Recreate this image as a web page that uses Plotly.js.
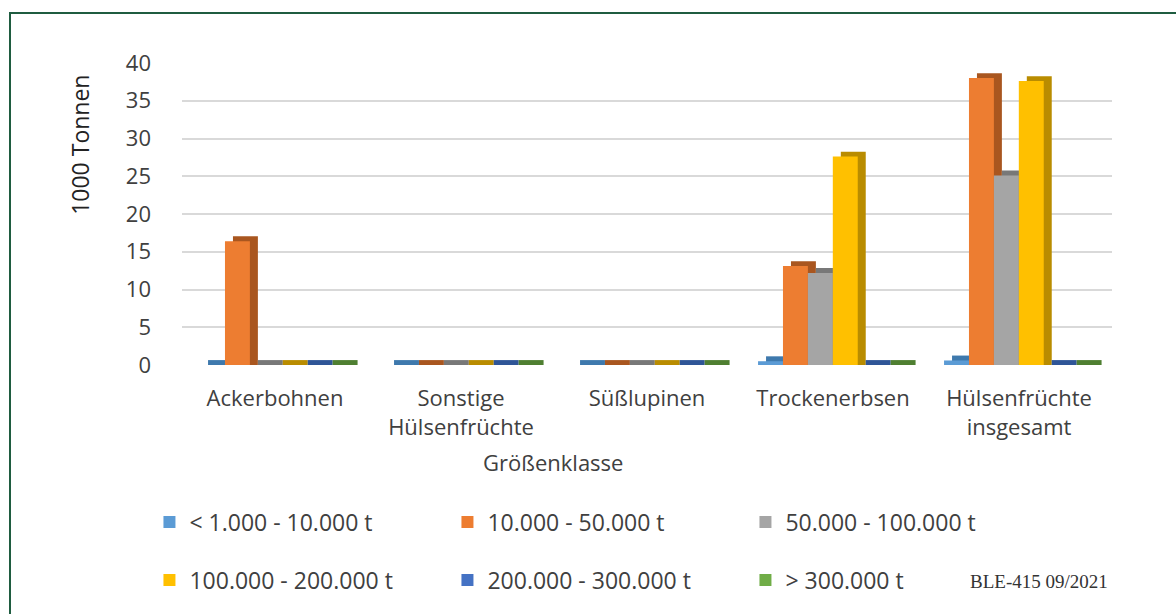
<!DOCTYPE html>
<html>
<head>
<meta charset="utf-8">
<script src="https://cdn.plot.ly/plotly-3.0.1.min.js"></script>
<style>
  body { margin: 0; background: #ffffff; }
  #frame { position: absolute; left: 9px; top: 12px; width: 1300px; height: 800px; border: 2px solid #1f5c40; }
  #chart { position: absolute; left: 0; top: 0; width: 1176px; height: 614px; }
</style>
</head>
<body>
<div id="frame"></div>
<div id="chart"></div>
<script>
// Kategorien (Größenklasse)
var kategorien = ['Ackerbohnen', 'Sonstige<br>Hülsenfrüchte', 'Süßlupinen', 'Trockenerbsen', 'Hülsenfrüchte<br>insgesamt'];

// Werte in 1000 Tonnen je Größenklasse der Betriebe
var klasse1 = [0, 0, 0, 0.5, 0.6];       // < 1.000 - 10.000 t
var klasse2 = [16.4, 0, 0, 13.1, 38.0];  // 10.000 - 50.000 t
var klasse3 = [0, 0, 0, 12.2, 25.1];     // 50.000 - 100.000 t
var klasse4 = [0, 0, 0, 27.6, 37.6];     // 100.000 - 200.000 t
var klasse5 = [0, 0, 0, 0, 0];           // 200.000 - 300.000 t
var klasse6 = [0, 0, 0, 0, 0];           // > 300.000 t

var namen = ['< 1.000 - 10.000 t', '10.000 - 50.000 t', '50.000 - 100.000 t',
             '100.000 - 200.000 t', '200.000 - 300.000 t', '> 300.000 t'];
var reihen = [klasse1, klasse2, klasse3, klasse4, klasse5, klasse6];

var farben = ['#5b9bd5', '#ed7d31', '#a5a5a5', '#ffc000', '#4472c4', '#70ad47'];
var dunkel = ['#3e79ad', '#a9561f', '#787878', '#b98c00', '#2f5597', '#4f7f31'];

// Geometrie der gruppierten Säulen (in Kategorie-Einheiten)
var barW = 0.134;
var start = -0.403;
var tiefeX = 0.043;   // Versatz der "3D"-Seite
var tiefeY = 0.65;    // Höhe der Deckfläche in Werteinheiten

var data = [];
// hintere Flächen (Seite + Deckel) zuerst
reihen.forEach(function(werte, i){
  data.push({
    x: kategorien,
    y: werte.map(function(v){ return v + tiefeY; }),
    type: 'bar',
    width: barW,
    offset: start + i * barW + tiefeX,
    marker: { color: dunkel[i] },
    showlegend: false,
    hoverinfo: 'skip'
  });
});
// vordere Flächen
reihen.forEach(function(werte, i){
  data.push({
    x: kategorien,
    y: werte,
    type: 'bar',
    name: namen[i],
    width: barW,
    offset: start + i * barW,
    marker: { color: farben[i] },
    legend: i < 3 ? 'legend' : 'legend2'
  });
});

var legendeStil = {
  orientation: 'h',
  xanchor: 'left',
  yanchor: 'middle',
  x: -0.035,
  entrywidth: 253,
  itemwidth: 30,
  font: { family: 'Open Sans', size: 23, color: '#404040' },
  bgcolor: 'rgba(0,0,0,0)'
};

var layout = {
  width: 1176,
  height: 614,
  paper_bgcolor: 'rgba(0,0,0,0)',
  plot_bgcolor: 'rgba(0,0,0,0)',
  margin: { l: 182, r: 64, t: 63, b: 249 },
  barmode: 'overlay',
  font: { family: 'Open Sans', color: '#404040' },
  xaxis: {
    type: 'category',
    showgrid: false,
    zeroline: false,
    showline: false,
    tickfont: { size: 22, color: '#404040' },
    ticklabelstandoff: 18
  },
  yaxis: {
    range: [0, 40],
    dtick: 5,
    showgrid: true,
    gridcolor: '#d9d9d9',
    gridwidth: 2,
    zeroline: false,
    tickfont: { size: 22, color: '#404040' },
    ticklabelstandoff: 30
  },
  legend: Object.assign({}, legendeStil, { y: -0.52 }),
  legend2: Object.assign({}, legendeStil, { y: -0.712 }),
  annotations: [
    { text: '1000 Tonnen', xref: 'paper', yref: 'paper', x: -0.11, y: 0.728,
      xanchor: 'center', yanchor: 'middle',
      textangle: -90, showarrow: false, font: { family: 'Open Sans', size: 23, color: '#222222' } },
    { text: 'Größenklasse', xref: 'paper', yref: 'paper', x: 0.399, y: -0.321,
      xanchor: 'center', yanchor: 'middle',
      showarrow: false, font: { family: 'Open Sans', size: 22, color: '#404040' } },
    { text: 'BLE-415 09/2021', xref: 'paper', yref: 'paper', x: 0.921, y: -0.718,
      xanchor: 'center', yanchor: 'middle',
      showarrow: false, font: { family: 'Liberation Serif', size: 19, color: '#333333' } }
  ]
};

Plotly.newPlot('chart', data, layout, { displayModeBar: false });
</script>
</body>
</html>
